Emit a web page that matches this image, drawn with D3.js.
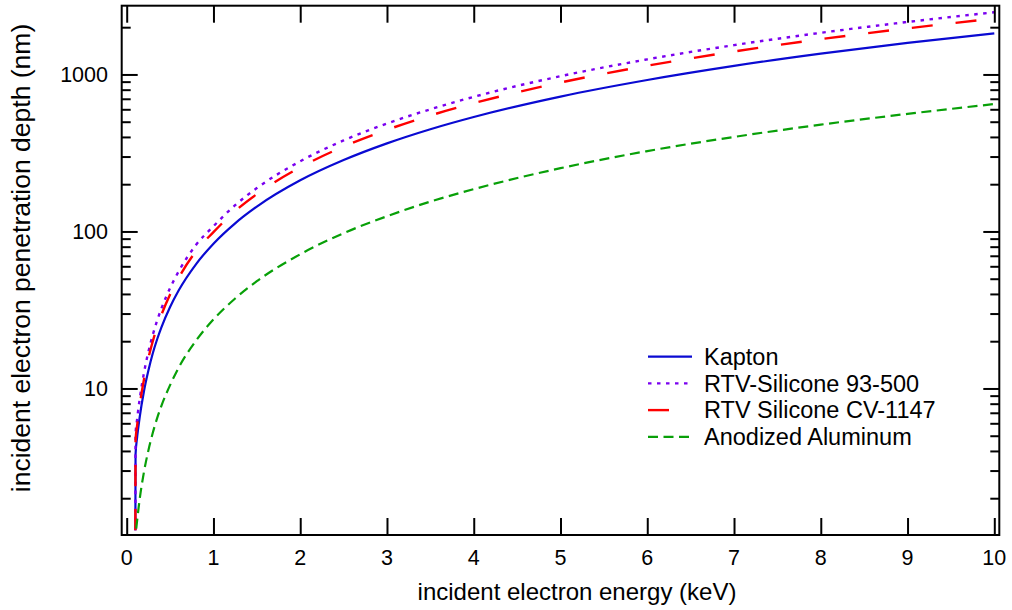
<!DOCTYPE html>
<html><head><meta charset="utf-8">
<script src="https://cdn.jsdelivr.net/npm/d3@7"></script>
<style>
html,body{margin:0;padding:0;background:#fff;}
svg text{font-family:"Liberation Sans",Arial,sans-serif;fill:#000;}
</style></head>
<body><svg id="c" width="1012" height="610"></svg>
<script>
// ---- data ----
const energyKeV = [0.1, 0.102, 0.12, 0.13, 0.15, 0.2, 0.25, 0.3, 0.35, 0.4, 0.5, 0.6, 0.8, 1, 1.25, 1.5, 2, 2.5, 3, 3.5, 4, 5, 6, 7, 8, 9, 10];
const kapton   = [1.25, 3.8, 4.88, 5.43, 6.58, 9.67, 13.0, 16.7, 20.5, 24.5, 33.0, 42.2, 62.0, 83.6, 112.7, 144, 211.7, 285, 364, 448, 536, 723, 922, 1134, 1357, 1588, 1829];
const rtv93500 = [1.25, 5.1, 6.35, 7.08, 8.58, 12.65, 17.1, 21.9, 27.0, 32.3, 43.6, 55.8, 82.3, 108, 147, 189, 280, 380, 487, 600, 720, 975, 1248, 1538, 1842, 2159, 2490];
const rtvCV1147 = [1.25, 4.65, 5.79, 6.45, 7.82, 11.5, 15.6, 19.9, 24.6, 29.4, 39.7, 50.8, 75.0, 99, 135, 173, 256, 347, 444, 548, 656, 888, 1136, 1400, 1678, 1967, 2268];
const alEnergyKeV = [0.11, 0.12, 0.13, 0.15, 0.2, 0.25, 0.3, 0.35, 0.4, 0.5, 0.6, 0.8, 1, 1.25, 1.5, 2, 2.5, 3, 3.5, 4, 5, 6, 7, 8, 9, 10];
const anodizedAl = [1.28, 1.44, 1.61, 1.98, 2.96, 4.03, 5.2, 6.45, 7.75, 10.5, 13.6, 20.2, 27.5, 37.4, 48.2, 71.6, 97.5, 125, 155, 186, 253, 325, 400, 479, 561, 648];
const seriesNames = ["Kapton", "RTV-Silicone 93-500", "RTV Silicone CV-1147", "Anodized Aluminum"];
const xTicks = [0,1,2,3,4,5,6,7,8,9,10];
const yMajorTicks = [10, 100, 1000];
const yTickLabels = ["10", "100", "1000"];
const xTitle = "incident electron energy (keV)";
const yTitle = "incident electron penetration depth (nm)";

// ---- layout ----
const svg = d3.select("#c");
const frame = {l:121.7, r:999.3, t:5.7, b:535};
const x = d3.scaleLinear().domain([0,10]).range([126.7, 994.3]);
const y = d3.scaleLog().domain([1.166, 2741]).range([frame.b, frame.t]);

const series = [
  {name:seriesNames[0], xs:energyKeV, ys:kapton, color:"#0a0ad2", dash:null, w:2.2},
  {name:seriesNames[1], xs:energyKeV, ys:rtv93500, color:"#7a00f0", dash:"3.5,5.5", w:2.4},
  {name:seriesNames[2], xs:energyKeV, ys:rtvCV1147, color:"#ff0000", dash:"21,23", w:2.4},
  {name:seriesNames[3], xs:alEnergyKeV, ys:anodizedAl, color:"#08a008", dash:"10,5.5", w:2.2}
];

svg.append("defs").append("clipPath").attr("id","clip")
  .append("rect").attr("x",frame.l).attr("y",frame.t).attr("width",frame.r-frame.l).attr("height",frame.b-frame.t);

const line = d3.line().x(d=>x(d[0])).y(d=>y(d[1])).curve(d3.curveMonotoneX);
const g = svg.append("g").attr("clip-path","url(#clip)");
series.forEach(s=>{
  g.append("path").datum(s.xs.map((e,i)=>[e,s.ys[i]]))
   .attr("d",line).attr("fill","none").attr("stroke",s.color)
   .attr("stroke-width",s.w).attr("stroke-dasharray",s.dash);
});

// ---- axes (ticks inward, mirrored) ----
const sw = 2;
const yMinor = [];
[1,10,100,1000].forEach(dec=>{ for(let k=2;k<=9;k++){ const v=k*dec; if(v>=y.domain()[0] && v<=y.domain()[1]) yMinor.push(v);} });

const gxb = svg.append("g").attr("transform",`translate(0,${frame.b})`).call(d3.axisBottom(x).tickValues(xTicks).tickSize(-17).tickFormat(()=>""));
const gxt = svg.append("g").attr("transform",`translate(0,${frame.t})`).call(d3.axisTop(x).tickValues(xTicks).tickSize(-17).tickFormat(()=>""));
const gyl = svg.append("g").attr("transform",`translate(${frame.l},0)`).call(d3.axisLeft(y).tickValues(yMajorTicks).tickSize(-16).tickFormat(()=>""));
const gylm = svg.append("g").attr("transform",`translate(${frame.l},0)`).call(d3.axisLeft(y).tickValues(yMinor).tickSize(-9).tickFormat(()=>""));
const gyr = svg.append("g").attr("transform",`translate(${frame.r},0)`).call(d3.axisRight(y).tickValues(yMajorTicks).tickSize(-16).tickFormat(()=>""));
const gyrm = svg.append("g").attr("transform",`translate(${frame.r},0)`).call(d3.axisRight(y).tickValues(yMinor).tickSize(-9).tickFormat(()=>""));
[gxb,gxt,gyl,gylm,gyr,gyrm].forEach(a=>{
  a.select(".domain").remove();
  a.selectAll(".tick line").attr("stroke","#000").attr("stroke-width",sw);
});

// frame
svg.append("rect").attr("x",frame.l).attr("y",frame.t).attr("width",frame.r-frame.l).attr("height",frame.b-frame.t)
  .attr("fill","none").attr("stroke","#000").attr("stroke-width",sw);

// tick labels
svg.append("g").selectAll("text").data(xTicks).join("text")
  .attr("x",d=>x(d)).attr("y",565).attr("text-anchor","middle").attr("font-size",21.5).text(d=>d);
svg.append("g").selectAll("text").data(yMajorTicks).join("text")
  .attr("x",108).attr("y",d=>y(d)+7.5).attr("text-anchor","end").attr("font-size",21.5).text((d,i)=>yTickLabels[i]);

// titles
svg.append("text").attr("x",577).attr("y",600).attr("text-anchor","middle").attr("font-size",24).text(xTitle);
svg.append("text").attr("transform","translate(30,258) rotate(-90)").attr("text-anchor","middle").attr("font-size",26.5).text(yTitle);

// legend
const lg = svg.append("g");
series.forEach((s,i)=>{
  const cy = 356.7 + i*26.7;
  lg.append("line").attr("x1",648).attr("x2",692).attr("y1",cy).attr("y2",cy)
    .attr("stroke",s.color).attr("stroke-width",s.w).attr("stroke-dasharray",s.dash);
  lg.append("text").attr("x",704).attr("y",cy+8.3).attr("font-size",23.5).text(s.name);
});
</script></body></html>
